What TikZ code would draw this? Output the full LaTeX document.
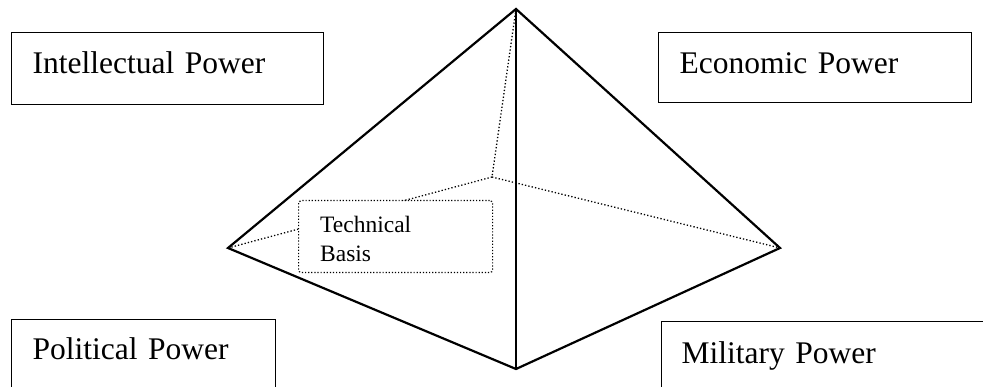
\documentclass[tikz,border=0pt]{standalone}
\usepackage{fontspec}
\setmainfont{Liberation Serif}
\begin{document}
\begin{tikzpicture}[x=1pt,y=-1pt,
  powerbox/.style={draw=black, line width=1.3pt, anchor=north west, align=left,
    inner ysep=0pt, font=\fontsize{31.5pt}{38pt}\selectfont},
  edge/.style={line width=2.2pt, line join=miter, line cap=round},
  hidden/.style={line width=1.3pt, dash pattern=on 1.3pt off 2.1pt},
  techbox/.style={draw=black, line width=1.2pt, dash pattern=on 1.2pt off 1.9pt,
    rounded corners=3pt, fill=white, anchor=north west, minimum width=194pt,
    minimum height=72pt, inner sep=0pt},
  techtext/.style={anchor=base west, align=left, inner sep=0pt,
    font=\fontsize{23.5pt}{29pt}\selectfont}]
\useasboundingbox (0,0) rectangle (983,387);
\fill[white] (0,0) rectangle (983,387);
% pyramid vertices
\coordinate (apex) at (516,9);
\coordinate (lv) at (228,248);
\coordinate (rv) at (780,248);
\coordinate (bv) at (516,369);
\coordinate (back) at (492,177);
% hidden edges
\draw[hidden] (apex) -- (back);
\draw[hidden] (back) -- (rv);
\draw[hidden] (back) -- (lv);
% technical basis box
\node[techbox] (tbox) at (298,200) {};
\node[techtext] (ttext) at (320,262) {Technical\\Basis};
% visible edges
\draw[edge] (lv) -- (apex) -- (rv) -- (bv) -- cycle;
\draw[edge] (apex) -- (bv);
% power boxes
\node[powerbox, inner xsep=21pt, text width=270pt, text height=41pt, text depth=31pt]
  (intel) at (11,32) {Intellectual Power};
\node[powerbox, inner xsep=21pt, text width=271pt, text height=41pt, text depth=29pt]
  (econ) at (658,32) {Economic Power};
\node[powerbox, inner xsep=21pt, text width=222pt, text height=40pt, text depth=60pt]
  (polit) at (11,319) {Political Power};
\node[powerbox, inner xsep=20pt, text width=300pt, text height=42pt, text depth=60pt]
  (milit) at (661,321) {Military Power};
\end{tikzpicture}
\end{document}
